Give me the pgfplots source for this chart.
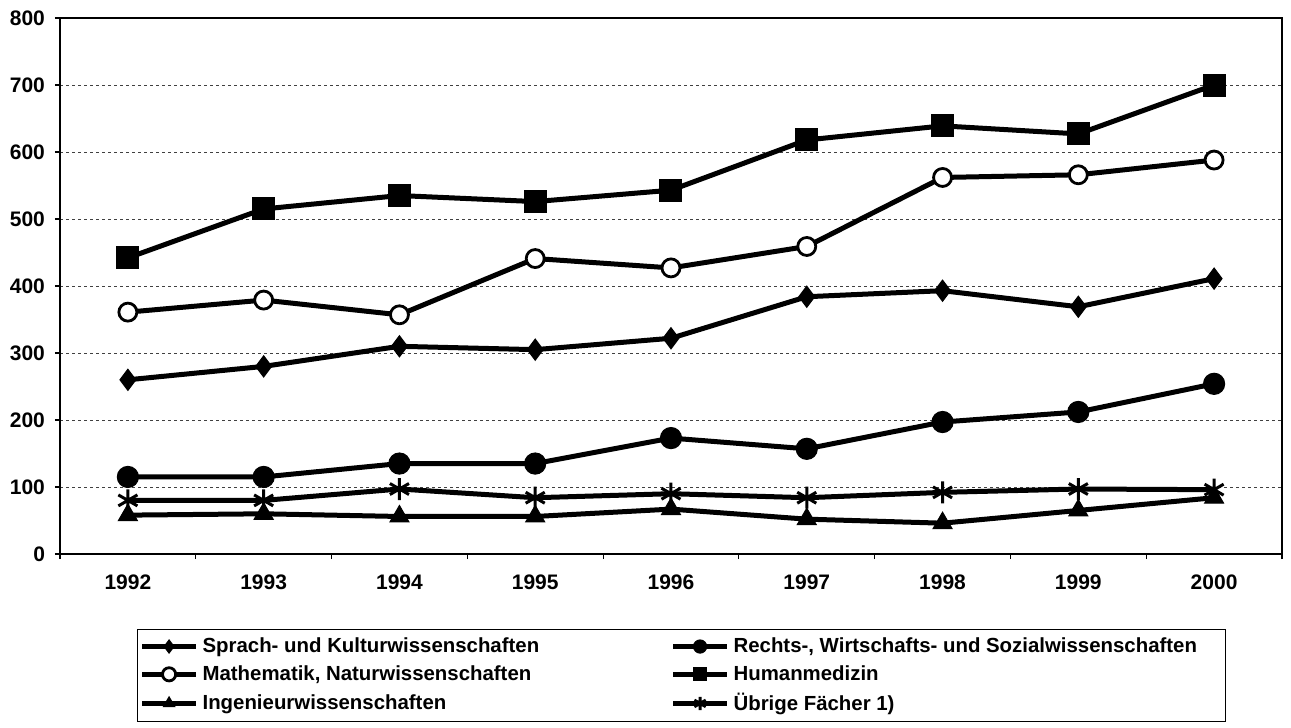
\documentclass[border=0pt]{standalone}
\usepackage{pgfplots}
\pgfplotsset{compat=1.18}
\usepackage{fontspec}
\setmainfont{Liberation Sans}
\begin{document}
\begin{tikzpicture}
\useasboundingbox (-30pt,-87pt) rectangle (615.5pt,277pt);
\begin{axis}[
  at={(0,0)}, anchor=south west,
  scale only axis, width=611pt, height=268pt,
  xmin=-0.5, xmax=8.5, ymin=0, ymax=800,
  xtick={0,...,8},
  xticklabels={1992,1993,1994,1995,1996,1997,1998,1999,2000},
  minor xtick={-0.5,0.5,...,8.5},
  ytick={0,100,...,800},
  major x tick style={draw=none},
  tick align=outside, tick pos=left,
  major tick length=2.5pt, minor tick length=2.5pt,
  minor x tick style={black, line width=0.6pt},
  ytick style={black, line width=0.6pt},
  ymajorgrids,
  major grid style={black!75, line width=0.5pt, dash pattern=on 1.5pt off 1.5pt},
  axis line style={black, line width=0.8pt},
  /pgf/number format/assume math mode=true,
  tick label style={font=\fontsize{10.5}{12}\selectfont\bfseries},
  x tick label style={yshift=-4.5pt},
  y tick label style={xshift=-1.5pt},
  legend columns=2,
  legend cell align=left,
  legend style={at={(0.063,-0.14)}, anchor=north west,
    draw=black, line width=0.6pt,
    font=\fontsize{10.2}{12}\selectfont\bfseries,
    inner xsep=1pt, inner ysep=2pt,
    row sep=1pt,
    /tikz/every odd column/.append style={column sep=0pt},
  },
  legend image code/.code={
    \draw[mark repeat=2,mark phase=2,#1,mark size=3.3pt]
      plot coordinates {(0pt,0pt) (13.5pt,0pt) (27pt,0pt)};
  },
  every axis plot/.append style={black, line width=2.5pt},
]
% Sprach- und Kulturwissenschaften
\addplot[mark=diamond*, mark size=5.3pt, mark options={solid, line width=0.5pt}]
  coordinates {(0,260) (1,280) (2,310) (3,305) (4,322) (5,384) (6,393) (7,369) (8,411)};
\addlegendentry{\makebox[232pt][l]{Sprach- und Kulturwissenschaften}}
% Rechts-, Wirtschafts- und Sozialwissenschaften
\addplot[mark=*, mark size=5.3pt, mark options={solid, line width=0.5pt}]
  coordinates {(0,115) (1,115) (2,135) (3,135) (4,173) (5,157) (6,197) (7,212) (8,254)};
\addlegendentry{\makebox[243pt][l]{Rechts-, Wirtschafts- und Sozialwissenschaften}}
% Mathematik, Naturwissenschaften
\addplot[mark=*, mark size=4.5pt, mark options={solid, fill=white, line width=1.4pt}]
  coordinates {(0,361) (1,379) (2,357) (3,441) (4,427) (5,459) (6,562) (7,566) (8,588)};
\addlegendentry{\makebox[232pt][l]{Mathematik, Naturwissenschaften}}
% Humanmedizin
\addplot[mark=square*, mark size=5.5pt, mark options={solid, line width=0.5pt}]
  coordinates {(0,442) (1,515) (2,535) (3,526) (4,543) (5,618) (6,639) (7,627) (8,700)};
\addlegendentry{Humanmedizin}
% Ingenieurwissenschaften
\addplot[mark=triangle*, mark size=5.5pt, mark options={solid, line width=0.5pt}]
  coordinates {(0,58) (1,60) (2,56) (3,56) (4,67) (5,52) (6,46) (7,65) (8,84)};
\addlegendentry{\makebox[232pt][l]{Ingenieurwissenschaften}}
% Übrige Fächer 1)
\addplot[mark=asterisk, mark size=5.5pt, mark options={solid, line width=1.5pt}]
  coordinates {(0,80) (1,80) (2,97) (3,84) (4,90) (5,84) (6,92) (7,97) (8,96)};
\addlegendentry{Übrige Fächer 1)}
\end{axis}
\end{tikzpicture}
\end{document}
